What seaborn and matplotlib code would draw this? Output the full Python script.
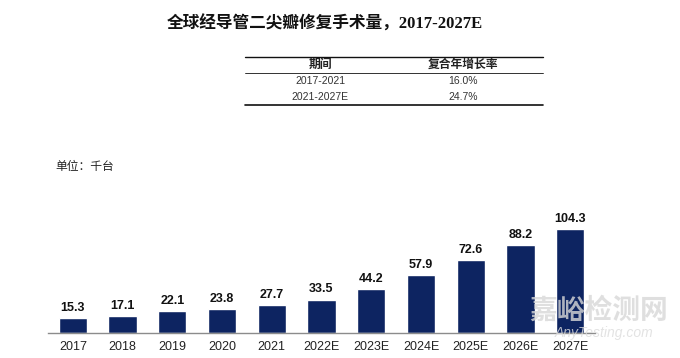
import matplotlib
matplotlib.use('Agg')
import matplotlib.pyplot as plt
import seaborn as sns
import pandas as pd

# data
years = ['2017', '2018', '2019', '2020', '2021', '2022E', '2023E', '2024E', '2025E', '2026E', '2027E']
volumes = [15.3, 17.1, 22.1, 23.8, 27.7, 33.5, 44.2, 57.9, 72.6, 88.2, 104.3]
periods = ['2017-2021', '2021-2027E']
cagr = ['16.0%', '24.7%']

sns.set_theme(style='white')
plt.rcParams['font.family'] = ['Liberation Sans', 'Noto Sans CJK SC', 'DejaVu Sans']

W, H = 680, 358
fig = plt.figure(figsize=(W / 100, H / 100), dpi=100)
fig.patch.set_facecolor('white')

# axes placed in pixel terms: baseline at y=333, plot from x=48 to 595
ax = fig.add_axes([48 / W, 25 / H, 547 / W, 120 / H])
df = pd.DataFrame({'year': years, 'volume': volumes})
sns.barplot(data=df, x='year', y='volume', color='#0d2461', width=0.57,
            saturation=1, ax=ax)
ax.set_xlim(-0.5, 10.5)
ax.set_ylim(0, 120)
ax.set_xlabel('')
ax.set_ylabel('')
ax.set_yticks([])
for s in ['top', 'right', 'left']:
    ax.spines[s].set_visible(False)
ax.spines['bottom'].set_color('#8c8c8c')
ax.spines['bottom'].set_linewidth(1.0)
ax.tick_params(axis='x', length=0, pad=6, labelsize=9, labelcolor='#222222')
ax.patch.set_alpha(0)

for i, v in enumerate(volumes):
    ax.text(i, v + 4, f'{v:.1f}', ha='center', va='bottom', fontsize=9,
            fontweight='bold', color='#111111')

# title
fig.text(325 / W, 1 - 24 / H, '全球经导管二尖瓣修复手术量，2017-2027E', ha='center',
         va='center', fontsize=12, fontweight='bold', color='#111111',
         family=['Liberation Serif', 'Noto Sans CJK SC'])

# CAGR table
def hline(y, lw):
    fig.add_artist(plt.Line2D([245 / W, 543 / W], [1 - y / H, 1 - y / H],
                              color='#111111', linewidth=lw))

hline(57, 1.0)
hline(73, 0.6)
hline(105, 1.2)
fig.text(320 / W, 1 - 65 / H, '期间', ha='center', va='center', fontsize=8.5,
         fontweight='bold', color='#222222')
fig.text(463 / W, 1 - 65 / H, '复合年增长率', ha='center', va='center', fontsize=8.5,
         fontweight='bold', color='#222222')
for k, (p, c) in enumerate(zip(periods, cagr)):
    yy = 81 + k * 16
    fig.text(320 / W, 1 - yy / H, p, ha='center', va='center', fontsize=7.5,
             color='#333333')
    fig.text(463 / W, 1 - yy / H, c, ha='center', va='center', fontsize=7.5,
             color='#333333')

# unit label
fig.text(55 / W, 1 - 167 / H, '单位：千台', ha='left', va='center', fontsize=8.5,
         color='#222222')

# watermark
fig.text(599 / W, 1 - 311 / H, '嘉峪检测网', ha='center', va='center', fontsize=20,
         color='#d8d8d8', alpha=0.8, fontweight='bold')
fig.text(604 / W, 1 - 333 / H, 'AnyTesting.com', ha='center', va='center',
         fontsize=10, color='#dcdcdc', style='italic', alpha=0.8)

fig.savefig('out.png', dpi=100, facecolor='white')
